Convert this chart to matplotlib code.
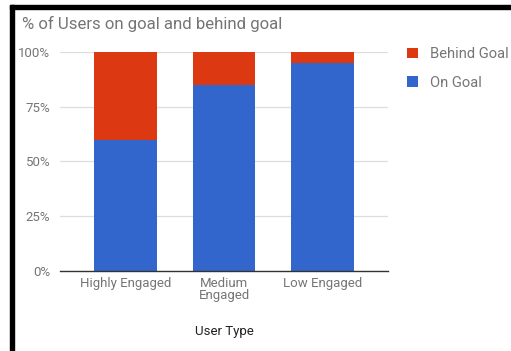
import matplotlib.pyplot as plt
from matplotlib.patches import Rectangle

categories = ['Highly Engaged', 'Medium\nEngaged', 'Low Engaged']
on_goal = [60, 85, 95]
behind_goal = [40, 15, 5]
yticks = [0, 25, 50, 75, 100]

blue = '#3366CC'
red = '#DC3912'
gray = '#757575'

plt.rcParams['font.family'] = ['Roboto', 'DejaVu Sans']

fig = plt.figure(figsize=(5.11, 3.51), dpi=100)
W, H = 511, 351

# black frame (left and top only are visible in the screenshot)
fig.patches.append(Rectangle((10 / W, 0), 4 / W, 1 - 5 / H, transform=fig.transFigure,
                             color='black', zorder=10))
fig.patches.append(Rectangle((10 / W, 1 - 9 / H), 1, 4 / H, transform=fig.transFigure,
                             color='black', zorder=10))

ax = fig.add_axes([60 / W, 1 - 270.5 / H, 328 / W, 218 / H])
x = range(len(categories))
ax.bar(x, on_goal, width=0.64, color=blue, label='On Goal', zorder=3)
ax.bar(x, behind_goal, bottom=on_goal, width=0.64, color=red, label='Behind Goal', zorder=3)

ax.set_xlim(-0.67, 2.67)
ax.set_ylim(0, 100)
ax.set_yticks(yticks)
ax.set_yticklabels([f'{v}%' for v in yticks])
ax.set_xticks(list(x))
ax.set_xticklabels(categories, linespacing=0.9)
ax.tick_params(length=0, colors=gray, labelsize=9.5)
ax.tick_params(axis='x', pad=5)
ax.tick_params(axis='y', pad=7)
ax.grid(axis='y', color='#DDDDDD', linewidth=0.9, zorder=0)
for s in ['top', 'right', 'left']:
    ax.spines[s].set_visible(False)
ax.spines['bottom'].set_color('#333333')
ax.spines['bottom'].set_linewidth(1.0)
ax.spines['bottom'].set_zorder(4)

ax.set_xlabel('User Type', color='#222222', fontsize=9.5, labelpad=16)

fig.text(22 / W, 1 - 24 / H, '% of Users on goal and behind goal', fontsize=12.1,
         color=gray, va='center', ha='left')

handles, labels = ax.get_legend_handles_labels()
leg = fig.legend(handles[::-1], labels[::-1], loc='upper left',
                 bbox_to_anchor=(407 / W, 1 - 47 / H), frameon=False,
                 fontsize=10.6, handlelength=0.72, handleheight=0.72,
                 handletextpad=0.85, labelspacing=1.0, borderaxespad=0, borderpad=0)
for t in leg.get_texts():
    t.set_color(gray)

fig.savefig('out.png', dpi=100)
